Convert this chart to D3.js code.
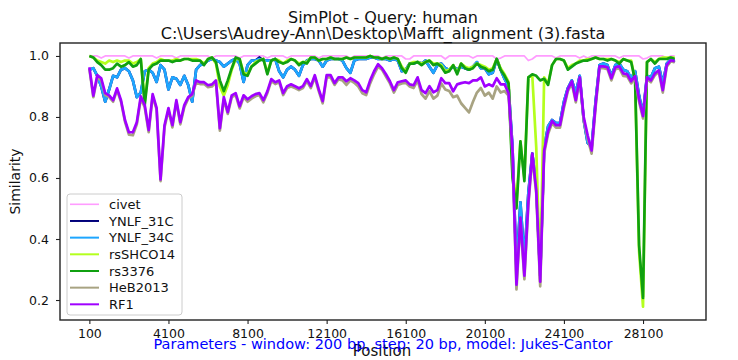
<!DOCTYPE html>
<html><head><meta charset="utf-8">
<script src="https://cdn.jsdelivr.net/npm/d3@7"></script>
<style>body{margin:0;background:#fff}svg{display:block}text{font-family:"DejaVu Sans",sans-serif}</style>
</head><body><svg id="chart" width="738" height="360"></svg>
<script>
// Window centre positions (bp)
const positions = [
100,300,500,700,900,1100,1300,1500,1700,1900,
2100,2300,2500,2700,2900,3100,3300,3500,3700,3900,
4100,4300,4500,4700,4900,5100,5300,5500,5700,5900,
6100,6300,6500,6700,6900,7100,7300,7500,7700,7900,
8100,8300,8500,8700,8900,9100,9300,9500,9700,9900,
10100,10300,10500,10700,10900,11100,11300,11500,11700,11900,
12100,12300,12500,12700,12900,13100,13300,13500,13700,13900,
14100,14300,14500,14700,14900,15100,15300,15500,15700,15900,
16100,16300,16500,16700,16900,17100,17300,17500,17700,17900,
18100,18300,18500,18700,18900,19100,19300,19500,19700,19900,
20100,20300,20500,20700,20900,21100,21300,21500,21700,21900,
22100,22300,22500,22700,22900,23100,23300,23500,23700,23900,
24100,24300,24500,24700,24900,25100,25300,25500,25700,25900,
26100,26300,26500,26700,26900,27100,27300,27500,27700,27900,
28100,28300,28500,28700,28900,29100,29300,29500,29700];

const civet = [
1,1,1,0.993,1,1,1,1,1,1,
0.993,1,1,1,1,1,1,0.993,1,1,
1,1,0.993,1,1,1,1,1,1,1,
1,0.993,1,1,1,1,1,1,0.993,1,
1,1,1,1,1,0.993,1,1,1,1,
0.993,1,1,1,1,1,1,1,0.993,1,
1,1,1,1,1,1,0.993,1,1,1,
1,1,1,1,0.993,1,1,1,1,1,
0.99,0.99,1,1,1,1,1,1,1,1,
0.99,1,1,1,1,1,1,0.993,1,1,
1,1,1,0.99,0.993,1,1,1,1,1,
1,0.985,0.99,1,1,1,1,1,0.993,1,
1,1,1,1,0.993,1,0.993,1,1,1,
1,1,1,1,0.993,1,1,1,1,1,
0.99,0.993,1,1,1,1,0.993,1,1];

const ynlf31c = [
0.955,0.96,0.935,0.90,0.85,0.89,0.935,0.93,0.955,0.96,
0.95,0.92,0.865,0.88,0.95,0.955,0.945,0.915,0.97,0.955,
0.89,0.93,0.925,0.905,0.935,0.905,0.85,0.955,0.97,0.975,
0.985,0.99,0.985,0.98,0.965,0.975,0.985,0.99,0.975,0.915,
0.97,0.985,0.985,0.995,0.985,0.985,0.985,0.99,0.95,0.93,
0.955,0.965,0.955,0.935,0.97,0.985,0.99,0.99,0.985,0.965,
0.985,0.99,0.99,0.99,0.985,0.96,0.945,0.985,0.99,0.99,
0.99,0.995,0.995,0.99,0.99,0.99,0.985,0.99,0.985,0.95,
0.955,0.975,0.975,0.98,0.975,0.985,0.965,0.945,0.97,0.975,
0.96,0.955,0.965,0.955,0.965,0.96,0.955,0.965,0.98,0.96,
0.96,0.94,0.945,0.99,0.955,0.925,0.9,0.70,0.30,0.52,
0.33,0.55,0.68,0.58,0.28,0.70,0.77,0.79,0.78,0.78,
0.85,0.895,0.92,0.88,0.935,0.79,0.715,0.70,0.85,0.97,
0.975,0.97,0.935,0.97,0.975,0.955,0.95,0.925,0.95,0.87,
0.81,0.935,0.93,0.96,0.965,0.91,0.975,0.99,0.98];

const ynlf34c = [
0.955,0.96,0.935,0.90,0.85,0.89,0.935,0.93,0.955,0.96,
0.95,0.92,0.865,0.88,0.95,0.955,0.945,0.915,0.97,0.955,
0.89,0.93,0.925,0.905,0.935,0.905,0.85,0.955,0.97,0.975,
0.985,0.99,0.985,0.98,0.965,0.975,0.985,0.99,0.975,0.915,
0.97,0.985,0.985,0.99,0.985,0.985,0.985,0.99,0.95,0.93,
0.955,0.965,0.955,0.935,0.97,0.985,0.99,0.99,0.985,0.965,
0.985,0.99,0.99,0.99,0.985,0.96,0.945,0.985,0.99,0.99,
0.99,0.995,0.995,0.99,0.99,0.99,0.985,0.99,0.985,0.95,
0.955,0.975,0.975,0.98,0.975,0.985,0.965,0.945,0.97,0.975,
0.96,0.955,0.965,0.955,0.965,0.96,0.955,0.965,0.98,0.96,
0.96,0.94,0.945,0.99,0.955,0.925,0.9,0.70,0.30,0.52,
0.33,0.55,0.68,0.58,0.28,0.70,0.77,0.79,0.78,0.78,
0.85,0.895,0.92,0.88,0.935,0.79,0.715,0.70,0.85,0.97,
0.975,0.97,0.935,0.97,0.975,0.955,0.95,0.93,0.95,0.87,
0.81,0.935,0.93,0.96,0.965,0.91,0.975,0.99,0.985];

const rsSHCO14 = [
1.0,0.995,0.985,0.98,0.975,0.985,0.98,0.985,0.98,0.985,
0.985,0.975,0.98,0.99,0.85,0.96,0.975,0.98,0.99,0.985,
0.985,0.985,0.99,0.985,0.99,0.99,0.99,0.99,0.985,0.975,
0.99,0.995,0.975,0.90,0.87,0.905,0.955,0.99,0.99,0.945,
0.94,0.965,0.98,0.985,0.99,0.945,0.985,0.99,0.985,0.975,
0.985,0.99,0.985,0.975,0.98,0.98,0.995,0.995,0.985,0.99,
0.99,0.995,0.99,0.99,0.99,0.995,0.99,0.995,0.995,0.995,
0.995,1.0,0.995,0.995,0.99,0.995,0.99,0.995,0.99,0.965,
0.95,0.975,0.98,0.98,0.975,0.98,0.985,0.975,0.975,0.97,
0.95,0.955,0.97,0.945,0.975,0.965,0.96,0.965,0.975,0.97,
0.965,0.955,0.96,0.99,0.96,0.94,0.915,0.62,0.52,0.72,
0.60,0.93,0.935,0.70,0.26,0.93,0.91,0.97,0.99,0.99,
0.985,0.96,0.97,0.975,0.985,0.985,0.99,0.99,0.995,0.99,
0.99,0.99,0.99,0.985,0.98,0.99,0.985,0.985,0.92,0.36,
0.178,0.98,0.99,0.98,0.99,0.995,0.995,0.995,0.995];

const rs3376 = [
1.0,0.995,0.98,0.97,0.955,0.955,0.96,0.975,0.965,0.97,
0.98,0.965,0.97,0.99,0.84,0.955,0.97,0.975,0.985,0.985,
0.985,0.98,0.985,0.985,0.99,0.99,0.985,0.985,0.985,0.97,
0.99,0.995,0.98,0.92,0.885,0.92,0.96,0.995,0.99,0.94,
0.935,0.965,0.975,0.985,0.99,0.94,0.985,0.99,0.98,0.975,
0.98,0.99,0.985,0.97,0.98,0.975,0.995,0.995,0.985,0.99,
0.99,0.995,0.99,0.99,0.99,0.995,0.99,0.995,0.995,0.995,
0.995,1.0,0.995,0.995,0.99,0.995,0.99,0.995,0.99,0.96,
0.945,0.975,0.975,0.98,0.97,0.98,0.985,0.97,0.975,0.965,
0.945,0.95,0.97,0.94,0.975,0.96,0.955,0.96,0.975,0.965,
0.96,0.95,0.955,0.99,0.955,0.935,0.91,0.60,0.50,0.72,
0.59,0.93,0.94,0.935,0.92,0.925,0.905,0.97,0.99,0.99,
0.985,0.955,0.965,0.975,0.98,0.985,0.985,0.99,0.995,0.99,
0.99,0.985,0.99,0.985,0.975,0.99,0.985,0.98,0.92,0.38,
0.207,0.98,0.99,0.975,0.99,0.99,0.99,0.995,0.99];

const heB2013 = [
0.958,0.865,0.93,0.92,0.872,0.865,0.85,0.888,0.85,0.785,
0.742,0.74,0.776,0.86,0.832,0.75,0.868,0.824,0.59,0.766,
0.822,0.766,0.85,0.776,0.832,0.86,0.87,0.914,0.908,0.908,
0.898,0.9,0.914,0.755,0.858,0.81,0.865,0.872,0.828,0.865,
0.85,0.86,0.868,0.872,0.848,0.878,0.918,0.908,0.914,0.872,
0.895,0.9,0.895,0.888,0.895,0.918,0.895,0.93,0.885,0.845,
0.93,0.93,0.905,0.924,0.92,0.905,0.92,0.912,0.9,0.878,
0.872,0.91,0.94,0.965,0.955,0.932,0.91,0.88,0.905,0.91,
0.912,0.9,0.895,0.92,0.875,0.86,0.885,0.86,0.87,0.91,
0.89,0.885,0.865,0.87,0.845,0.83,0.815,0.85,0.88,0.895,
0.87,0.88,0.86,0.9,0.88,0.885,0.87,0.68,0.235,0.46,
0.268,0.51,0.67,0.55,0.245,0.68,0.745,0.78,0.765,0.765,
0.83,0.885,0.91,0.848,0.925,0.79,0.73,0.68,0.83,0.96,
0.96,0.957,0.92,0.957,0.96,0.935,0.933,0.91,0.928,0.85,
0.795,0.924,0.914,0.937,0.948,0.88,0.965,0.982,0.98];

const rf1 = [
0.963,0.87,0.937,0.927,0.878,0.871,0.855,0.894,0.855,0.79,
0.75,0.75,0.783,0.868,0.839,0.757,0.875,0.83,0.595,0.773,
0.829,0.773,0.855,0.783,0.839,0.865,0.875,0.92,0.914,0.914,
0.904,0.907,0.92,0.763,0.865,0.816,0.871,0.878,0.835,0.871,
0.858,0.868,0.875,0.878,0.855,0.884,0.924,0.914,0.92,0.878,
0.901,0.907,0.901,0.894,0.901,0.924,0.901,0.937,0.891,0.852,
0.937,0.937,0.911,0.93,0.93,0.917,0.927,0.92,0.911,0.888,
0.881,0.92,0.95,0.973,0.96,0.94,0.917,0.888,0.914,0.917,
0.92,0.907,0.904,0.93,0.888,0.878,0.901,0.881,0.888,0.927,
0.911,0.911,0.884,0.907,0.911,0.914,0.911,0.92,0.92,0.93,
0.90,0.907,0.901,0.927,0.907,0.907,0.878,0.69,0.25,0.47,
0.28,0.52,0.68,0.56,0.26,0.69,0.754,0.787,0.773,0.773,
0.839,0.891,0.917,0.855,0.93,0.80,0.74,0.69,0.84,0.966,
0.966,0.963,0.927,0.963,0.966,0.943,0.94,0.917,0.934,0.858,
0.803,0.93,0.92,0.943,0.953,0.888,0.97,0.986,0.983];

const seriesNames = ["civet","YNLF_31C","YNLF_34C","rsSHCO14","rs3376","HeB2013","RF1"];
const seriesValues = [civet, ynlf31c, ynlf34c, rsSHCO14, rs3376, heB2013, rf1];
const seriesColors = ["#ff9cff","#00007a","#1ea6ff","#b4ff1e","#10a010","#a8a382","#a000ff"];
const xTicks = [100,4100,8100,12100,16100,20100,24100,28100];
const yTicks = [0.2,0.4,0.6,0.8,1.0];
const titleLines = ["SimPlot - Query: human","C:\\Users\\Audrey-Ann\\Desktop\\Mafft_alignment (3).fasta"];
const paramText = "Parameters - window: 200 bp, step: 20 bp, model: Jukes-Cantor";

const svg = d3.select("#chart");
const L = 60, R = 706, T = 43, B = 320;
const x = d3.scaleLinear().domain([-1385, 31285]).range([L, R]);
const y = d3.scaleLinear().domain([0.1345, 1.0425]).range([B, T]);

svg.append("defs").append("clipPath").attr("id","plotclip")
  .append("rect").attr("x",L).attr("y",T).attr("width",R-L).attr("height",B-T);

const line = d3.line().x((d,i)=>x(positions[i])).y(d=>y(d));
const g = svg.append("g").attr("clip-path","url(#plotclip)");
seriesValues.forEach((vals,k)=>{
  g.append("path").datum(vals).attr("d",line)
   .attr("fill","none").attr("stroke",seriesColors[k])
   .attr("stroke-width", k===0 ? 1.7 : 2.7)
   .attr("stroke-linejoin","round").attr("stroke-linecap","butt");
});

// axes
const xAxis = svg.append("g").attr("transform",`translate(0,${B})`)
  .call(d3.axisBottom(x).tickValues(xTicks).tickFormat(d3.format("d")).tickSize(4).tickPadding(5));
const yAxis = svg.append("g").attr("transform",`translate(${L},0)`)
  .call(d3.axisLeft(y).tickValues(yTicks).tickFormat(d3.format(".1f")).tickSize(4).tickPadding(7));
[xAxis,yAxis].forEach(a=>{
  a.select(".domain").remove();
  a.selectAll(".tick line").attr("stroke","#222").attr("stroke-width",1.1);
  a.selectAll(".tick text").attr("fill","#111").style("font-size","12.5px").style("font-family","DejaVu Sans");
});

// frame
svg.append("rect").attr("x",L).attr("y",T).attr("width",R-L).attr("height",B-T)
  .attr("fill","none").attr("stroke","#222").attr("stroke-width",1.4);

// titles
titleLines.forEach((t,i)=>{
  svg.append("text").attr("x",383).attr("y",i===0?22.5:38.5).attr("text-anchor","middle")
    .style("font-size","16px").attr("fill","#111").text(t);
});
svg.append("text").attr("transform","translate(19.5,181.5) rotate(-90)").attr("text-anchor","middle")
  .style("font-size","14px").attr("fill","#111").text("Similarity");
svg.append("text").attr("x",382).attr("y",355.5).attr("text-anchor","middle")
  .style("font-size","15px").attr("fill","#111").text("Position");
svg.append("text").attr("x",383).attr("y",348.5).attr("text-anchor","middle")
  .style("font-size","14.5px").attr("fill","#0000ff").text(paramText);

// legend
const lg = svg.append("g");
lg.append("rect").attr("x",67).attr("y",194).attr("width",115).attr("height",121).attr("rx",3)
  .attr("fill","#fff").attr("fill-opacity",0.85).attr("stroke","#cccccc").attr("stroke-width",1);
seriesNames.forEach((n,k)=>{
  const yy = 204.3 + k*16.67;
  lg.append("line").attr("x1",70).attr("x2",99).attr("y1",yy).attr("y2",yy)
    .attr("stroke",seriesColors[k]).attr("stroke-width",k===0?1.6:2);
  lg.append("text").attr("x",109).attr("y",yy).attr("dy","0.36em")
    .style("font-size","13px").attr("fill","#111").text(n);
});
</script></body></html>
